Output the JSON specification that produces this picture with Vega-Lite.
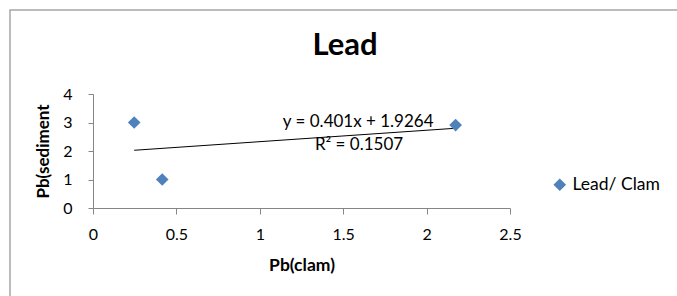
{
  "$schema": "https://vega.github.io/schema/vega-lite/v6.json",
  "width": 670,
  "height": 290,
  "autosize": {"type": "none"},
  "padding": {"left": 10, "top": 10, "right": 0, "bottom": 0},
  "background": "white",
  "config": {
    "view": {"stroke": "#a6a6a6", "strokeWidth": 1.5},
    "font": "Lato"
  },
  "title": {
    "text": "Lead",
    "fontSize": 31,
    "fontWeight": "bold",
    "font": "Lato",
    "color": "#000000",
    "anchor": "middle",
    "frame": "group",
    "offset": -48,
    "dy": 28,
    "baseline": "alphabetic"
  },
  "datasets": {
    "points": [
      {"x": 0.247, "y": 3.0, "series": "Lead/ Clam"},
      {"x": 0.415, "y": 1.0, "series": "Lead/ Clam"},
      {"x": 2.174, "y": 2.91, "series": "Lead/ Clam"}
    ],
    "trend": [
      {"x": 0.247, "y": 2.0255},
      {"x": 2.174, "y": 2.7982}
    ],
    "labels": [
      {"x": 1.59, "y": 3.03, "text": "y = 0.401x + 1.9264"},
      {"x": 1.595, "y": 2.21, "text": "R² = 0.1507"}
    ]
  },
  "encoding": {
    "x": {
      "field": "x",
      "type": "quantitative",
      "scale": {"domain": [0, 2.5], "range": [83, 500], "nice": false, "zero": false},
      "axis": {
        "title": "Pb(clam)",
        "offset": -92,
        "values": [0, 0.5, 1, 1.5, 2, 2.5],
        "format": "~g",
        "grid": false,
        "domainColor": "#868686",
        "tickColor": "#868686",
        "tickSize": 6,
        "labelPadding": 12,
        "labelFontSize": 16,
        "labelFont": "Lato",
        "labelColor": "#000000",
        "labelFlush": false,
        "labelOverlap": false,
        "titleFontSize": 17.5,
        "titleFont": "Lato",
        "titleFontWeight": "bold",
        "titleColor": "#000000",
        "titlePadding": 14
      }
    },
    "y": {
      "field": "y",
      "type": "quantitative",
      "scale": {"domain": [0, 4], "range": [198, 84], "nice": false, "zero": false},
      "axis": {
        "title": "Pb(sediment",
        "offset": -83,
        "values": [0, 1, 2, 3, 4],
        "format": "d",
        "grid": false,
        "domainColor": "#868686",
        "tickColor": "#868686",
        "tickSize": 5,
        "labelPadding": 16,
        "labelFontSize": 16,
        "labelFont": "Lato",
        "labelColor": "#000000",
        "labelFlush": false,
        "labelOverlap": false,
        "titleFontSize": 17,
        "titleFont": "Lato",
        "titleFontWeight": "bold",
        "titleColor": "#000000",
        "titlePadding": 10
      }
    }
  },
  "layer": [
    {
      "data": {"name": "trend"},
      "mark": {"type": "line", "color": "#000000", "strokeWidth": 1},
      "encoding": {}
    },
    {
      "data": {"name": "points"},
      "mark": {"type": "point", "filled": true, "size": 160, "opacity": 1},
      "encoding": {
        "color": {
          "field": "series",
          "type": "nominal",
          "scale": {"range": ["#4F81BD"]},
          "legend": {
            "title": null,
            "orient": "none",
            "legendX": 541,
            "legendY": 166,
            "labelFontSize": 17.5,
            "labelFont": "Lato",
            "labelColor": "#000000",
            "labelOffset": 4,
            "symbolSize": 160,
            "symbolStrokeWidth": 0
          }
        },
        "shape": {
          "field": "series",
          "type": "nominal",
          "scale": {"range": ["diamond"]}
        }
      }
    },
    {
      "data": {"name": "labels"},
      "mark": {"type": "text", "fontSize": 17, "font": "Lato", "color": "#000000", "align": "center", "baseline": "middle"},
      "encoding": {"text": {"field": "text"}}
    }
  ]
}
